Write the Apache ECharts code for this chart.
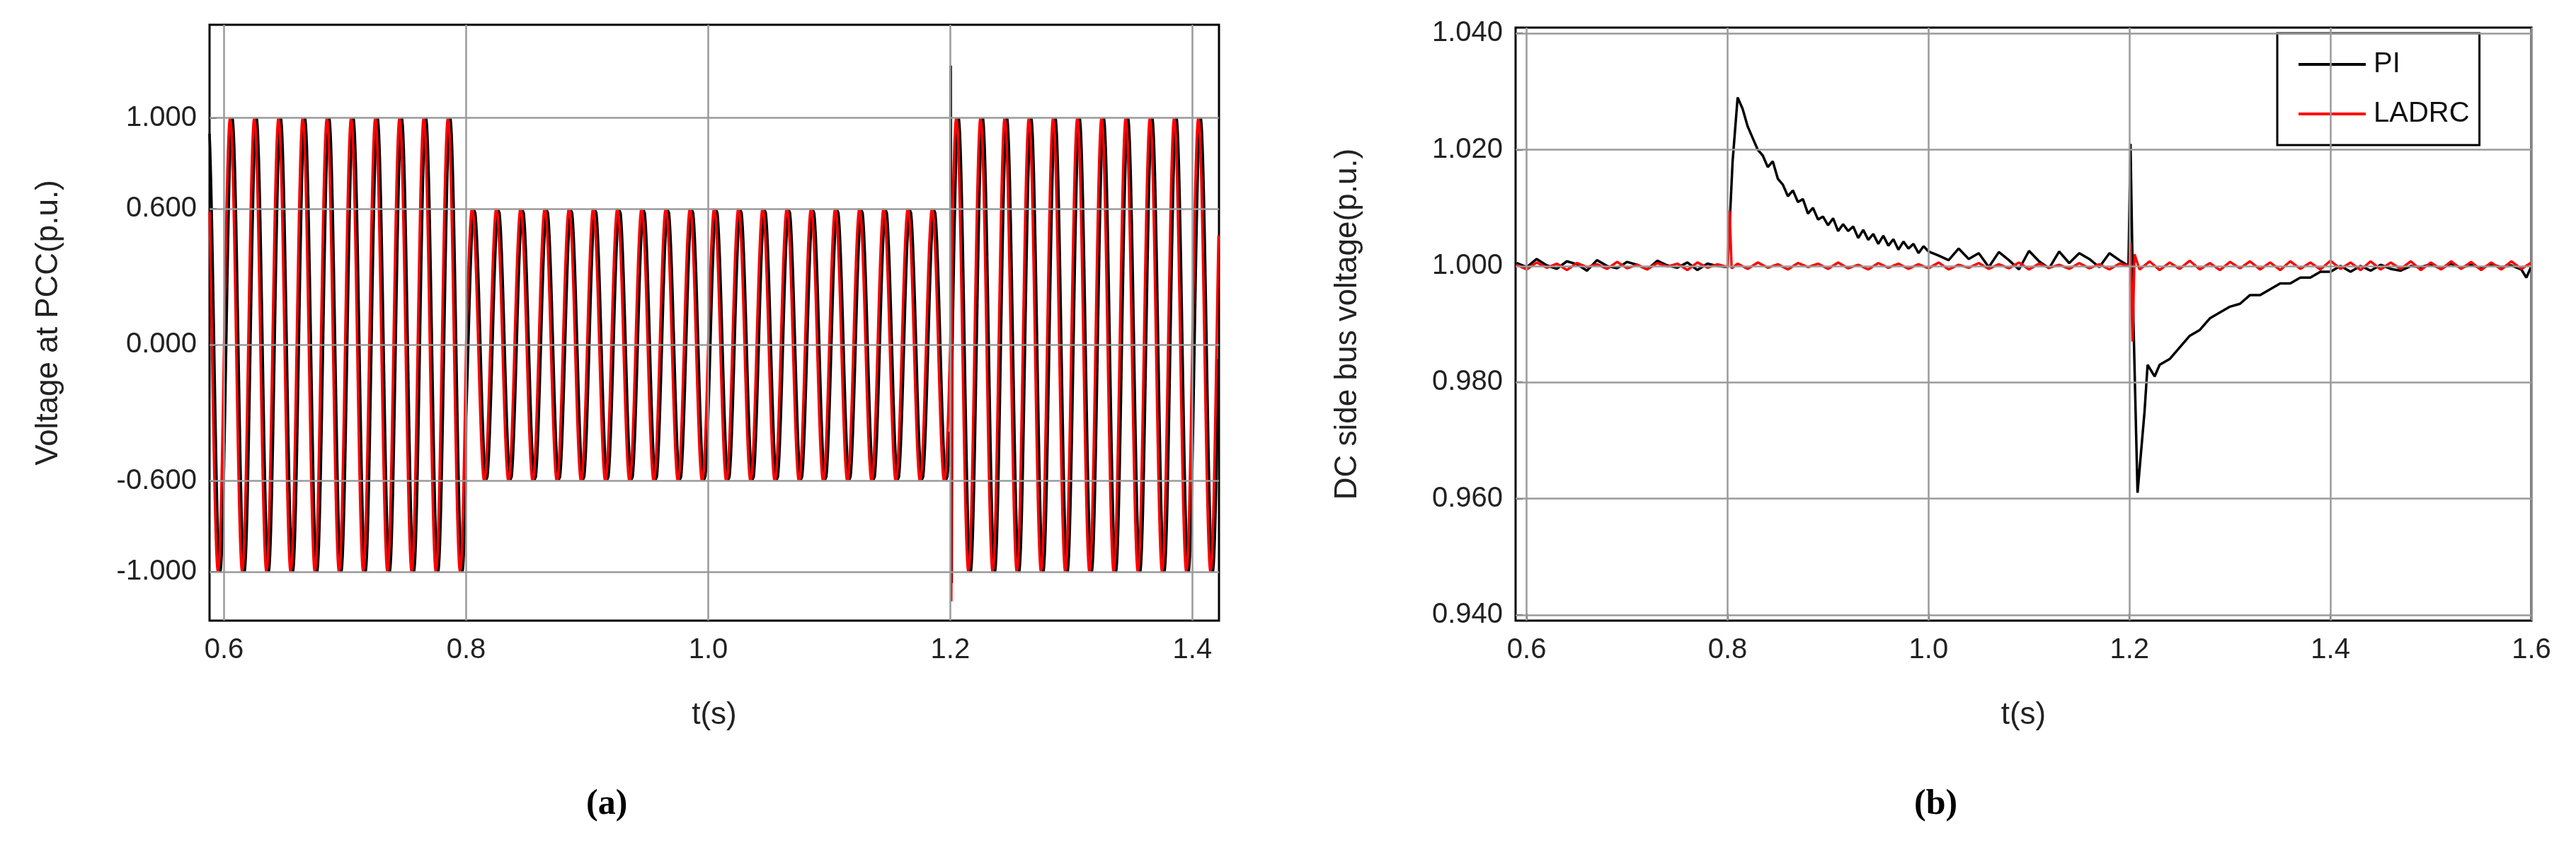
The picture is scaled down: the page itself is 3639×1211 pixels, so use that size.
<!DOCTYPE html>
<html><head><meta charset="utf-8">
<script src="https://cdn.jsdelivr.net/npm/echarts@6/dist/echarts.min.js"></script>
<style>html,body{margin:0;padding:0;background:#fff}#c{width:3639px;height:1211px}</style>
</head><body><div id="c"></div>
<script>
// ---- Panel (a): PCC voltage ----
const pccSegStart = [0.588, 0.8, 1.2];
const pccSegEnd   = [0.8, 1.2, 1.422];
const pccAmpPI    = [1.0, 0.6, 1.0];
const pccAmpLADRC = [1.0, 0.6, 1.0];
const pccFreqHz   = 50;
const pccLagPI    = 0.0018;   // PI trace lags LADRC slightly (s)
const pccSpikePI    = [[1.2004, 1.23], [1.2012, -1.05]];
const pccSpikeLADRC = [[1.2008, -1.13]];
const aTicksX = [0.6, 0.8, 1.0, 1.2, 1.4];
const aTicksY = [-1.0, -0.6, 0.0, 0.6, 1.0];

// ---- Panel (b): DC bus voltage ----
const tPI = [0.59,0.60,0.61,0.62,0.63,0.64,0.65,0.66,0.67,0.68,0.69,0.70,0.71,0.72,0.73,0.74,0.75,0.76,0.77,0.78,0.79,0.80,
 0.805,0.81,0.815,0.82,0.825,0.83,0.835,0.84,0.845,0.85,0.855,0.86,0.865,0.87,0.875,0.88,0.885,0.89,0.895,0.90,0.905,0.91,0.915,0.92,0.925,0.93,0.935,0.94,0.945,0.95,0.955,0.96,0.965,0.97,0.975,0.98,0.985,0.99,0.995,1.00,
 1.01,1.02,1.03,1.04,1.05,1.06,1.07,1.08,1.09,1.10,1.11,1.12,1.13,1.14,1.15,1.16,1.17,1.18,1.19,1.199,1.201,1.204,1.208,1.215,1.218,1.225,1.23,1.24,1.25,1.26,1.27,1.28,1.29,1.30,1.31,1.32,1.33,1.34,1.35,1.36,1.37,1.38,1.39,1.40,1.41,1.42,1.43,1.44,1.45,1.46,1.47,1.48,
 1.49,1.50,1.51,1.52,1.53,1.54,1.55,1.56,1.57,1.58,1.59,1.595,1.60];
const vPI = [1.0005,0.9998,1.0012,1.0001,0.9995,1.0008,1.0003,0.9992,1.0010,1.0000,0.9996,1.0007,1.0002,0.9994,1.0009,1.0001,0.9997,1.0006,0.9993,1.0004,1.0000,0.9998,
 1.018,1.029,1.027,1.024,1.022,1.020,1.019,1.017,1.018,1.015,1.014,1.012,1.013,1.011,1.0115,1.009,1.010,1.008,1.0085,1.007,1.0082,1.006,1.0072,1.006,1.0068,1.0048,1.0062,1.0045,1.0055,1.0038,1.0052,1.0035,1.0046,1.0028,1.0042,1.0030,1.0038,1.0022,1.0034,1.0025,
 1.0018,1.0010,1.0030,1.0012,1.0022,0.9998,1.0024,1.0010,0.9994,1.0026,1.0008,0.9996,1.0025,1.0005,1.0022,1.0012,0.9998,1.0022,1.0010,1.0000,1.021,0.990,0.961,0.975,0.983,0.981,0.983,0.984,0.986,0.988,0.989,0.991,0.992,0.993,0.9935,0.995,0.995,0.996,0.997,0.997,0.998,0.998,0.999,0.999,1.000,0.999,1.000,0.9992,1.0002,0.9995,0.9992,1.000,
 0.9998,1.0003,0.9995,1.0004,0.9997,1.0002,0.9996,1.0003,0.9998,1.0001,0.9994,0.998,1.000];
const tLADRC = [0.59,0.60,0.61,0.62,0.63,0.64,0.65,0.66,0.67,0.68,0.69,0.70,0.71,0.72,0.73,0.74,0.75,0.76,0.77,0.78,0.79,0.80,0.802,0.804,
 0.81,0.82,0.83,0.84,0.85,0.86,0.87,0.88,0.89,0.90,0.91,0.92,0.93,0.94,0.95,0.96,0.97,0.98,0.99,1.00,1.01,1.02,1.03,1.04,1.05,1.06,1.07,1.08,1.09,1.10,1.11,1.12,1.13,1.14,1.15,1.16,1.17,1.18,1.19,1.20,1.201,1.203,1.205,
 1.21,1.22,1.23,1.24,1.25,1.26,1.27,1.28,1.29,1.30,1.31,1.32,1.33,1.34,1.35,1.36,1.37,1.38,1.39,1.40,1.41,1.42,1.43,1.44,1.45,1.46,1.47,1.48,1.49,1.50,1.51,1.52,1.53,1.54,1.55,1.56,1.57,1.58,1.59,1.60];
const vLADRC = [1.0002,0.9994,1.0006,0.9997,1.0004,0.9993,1.0005,0.9998,1.0003,0.9995,1.0007,0.9996,1.0002,0.9994,1.0005,0.9999,1.0004,0.9993,1.0006,0.9997,1.0003,0.9998,1.0095,0.9996,
 1.0004,0.9995,1.0006,0.9997,1.0003,0.9994,1.0005,0.9998,1.0004,0.9995,1.0006,0.9996,1.0002,0.9994,1.0005,0.9997,1.0004,0.9995,1.0003,0.9996,1.0006,0.9994,1.0002,0.9997,1.0005,0.9995,1.0003,0.9996,1.0006,0.9994,1.0004,0.9997,1.0002,0.9995,1.0005,0.9996,1.0003,0.9994,1.0004,1.0000,1.004,0.987,1.002,
 0.9994,1.0008,0.9993,1.0006,0.9995,1.0009,0.9994,1.0005,0.9993,1.0007,0.9996,1.0008,0.9994,1.0006,0.9993,1.0008,0.9995,1.0006,0.9994,1.0009,0.9995,1.0006,0.9993,1.0008,0.9994,1.0006,0.9995,1.0008,0.9993,1.0006,0.9994,1.0008,0.9995,1.0007,0.9993,1.0006,0.9994,1.0008,0.9995,1.0006,0.9994,1.0005];
const bTicksX = [0.6, 0.8, 1.0, 1.2, 1.4, 1.6];
const bTicksY = [0.94, 0.96, 0.98, 1.00, 1.02, 1.04];

function wave(amps, lag, spikes){
  const pts = [];
  for (let s = 0; s < pccSegStart.length; s++){
    for (let t = pccSegStart[s]; t < pccSegEnd[s] - 1e-9; t += 0.0004){
      pts.push([t, amps[s] * Math.sin(2*Math.PI*pccFreqHz*(t - lag))]);
    }
  }
  spikes.forEach(p => pts.push(p));
  pts.sort((a,b)=>a[0]-b[0]);
  return pts;
}
const zip = (t,v) => t.map((x,i)=>[x,v[i]]);

const font = 'Liberation Sans';
const lab = {fontFamily: font, fontSize: 40, color: '#222'};
const gridLine = {color: '#9a9a9a', width: 2.5, type: 'solid'};
function gridMarks(xs, ys){
  return {silent: true, symbol: 'none', label: {show: false}, lineStyle: gridLine, animation: false,
    data: xs.map(x=>({xAxis: x})).concat(ys.map(y=>({yAxis: y})))};
}
function xAx(gi, min, max, ticks){
  return {type: 'value', gridIndex: gi, min, max, name: 't(s)', nameLocation: 'middle', nameGap: 112,
    nameTextStyle: {fontFamily: font, fontSize: 44, color: '#222'},
    axisLine: {show: false}, splitLine: {show: false},
    axisTick: {show: true, inside: true, length: 10, customValues: ticks, lineStyle: {color: '#000', width: 2}},
    axisLabel: Object.assign({customValues: ticks, margin: 22, formatter: v => v.toFixed(1)}, lab)};
}
function yAx(gi, min, max, ticks, name, gap){
  return {type: 'value', gridIndex: gi, min, max, name, nameLocation: 'middle', nameGap: gap,
    nameTextStyle: {fontFamily: font, fontSize: 44, color: '#222'},
    axisLine: {show: false}, splitLine: {show: false},
    axisTick: {show: true, inside: true, length: 10, customValues: ticks, lineStyle: {color: '#000', width: 2}},
    axisLabel: Object.assign({customValues: ticks, margin: 18, formatter: v => v.toFixed(3)}, lab)};
}

const chart = echarts.init(document.getElementById('c'));
chart.setOption({
  animation: false,
  backgroundColor: '#fff',
  grid: [
    {left: 296, top: 35, width: 1426, height: 842, show: true, borderColor: '#000', borderWidth: 3},
    {left: 2141, top: 39, width: 1435, height: 838, show: true, borderColor: '#000', borderWidth: 3}
  ],
  xAxis: [xAx(0, 0.588, 1.422, aTicksX), xAx(1, 0.589, 1.6, bTicksX)],
  yAxis: [yAx(0, -1.215, 1.41, aTicksY, 'Voltage at PCC(p.u.)', 205),
          yAx(1, 0.939, 1.041, bTicksY, 'DC side bus voltage(p.u.)', 215)],
  legend: {show: true, left: 3217, top: 47, width: 350, orient: 'vertical', itemGap: 30,
    data: ['PI', 'LADRC'], itemWidth: 95, itemHeight: 4, icon: 'rect',
    backgroundColor: '#fff', borderColor: '#000', borderWidth: 3, padding: [24, 14, 24, 30],
    textStyle: {fontFamily: font, fontSize: 40, color: '#111', padding: [0, 0, 0, 6]}},
  graphic: [
    {type: 'text', left: 828, top: 1112, style: {text: '(a)', font: 'bold 50px "Liberation Serif"', fill: '#000'}},
    {type: 'text', left: 2704, top: 1112, style: {text: '(b)', font: 'bold 50px "Liberation Serif"', fill: '#000'}}
  ],
  series: [
    {type: 'line', xAxisIndex: 0, yAxisIndex: 0, data: [], markLine: gridMarks(aTicksX, aTicksY), z: 1},
    {name: 'PI', type: 'line', xAxisIndex: 0, yAxisIndex: 0, showSymbol: false, data: wave(pccAmpPI, pccLagPI, pccSpikePI),
      lineStyle: {color: '#000', width: 3.5}, itemStyle: {color: '#000'}, z: 3},
    {name: 'LADRC', type: 'line', xAxisIndex: 0, yAxisIndex: 0, showSymbol: false, data: wave(pccAmpLADRC, 0, pccSpikeLADRC),
      lineStyle: {color: '#f00', width: 3.5}, itemStyle: {color: '#f00'}, z: 4},
    {type: 'line', xAxisIndex: 1, yAxisIndex: 1, data: [], markLine: gridMarks(bTicksX, bTicksY), z: 1},
    {name: 'PI', type: 'line', xAxisIndex: 1, yAxisIndex: 1, showSymbol: false, data: zip(tPI, vPI),
      lineStyle: {color: '#000', width: 3.5}, itemStyle: {color: '#000'}, z: 3},
    {name: 'LADRC', type: 'line', xAxisIndex: 1, yAxisIndex: 1, showSymbol: false, data: zip(tLADRC, vLADRC),
      lineStyle: {color: '#f00', width: 3.5}, itemStyle: {color: '#f00'}, z: 4}
  ]
});
</script></body></html>
